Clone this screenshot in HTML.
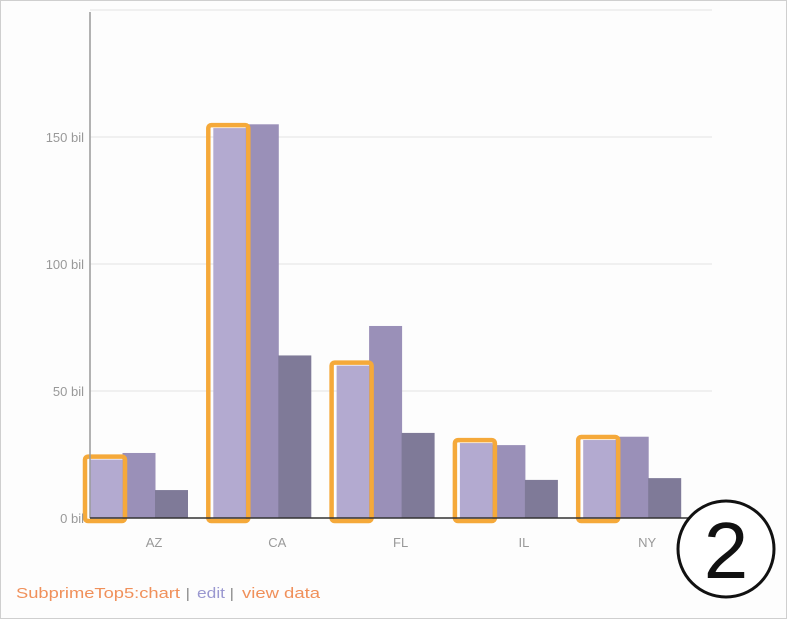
<!DOCTYPE html>
<html><head><meta charset="utf-8"><style>
body{margin:0;background:#fff;}
svg{display:block;font-family:"Liberation Sans",sans-serif;}
</style></head><body>
<svg width="788" height="620" viewBox="0 0 788 620">
<rect x="0.5" y="0.5" width="786" height="618" fill="#fdfdfd" stroke="#cfcfcf"/>
<g id="grid"></g>
<g id="bars"></g>
<g id="labels"></g>
<line x1="90" y1="12" x2="90" y2="518" stroke="#9a9a9a" stroke-width="1.5"/>
<line x1="90" y1="518" x2="690" y2="518" stroke="#333" stroke-width="1.5"/>
<text x="16" y="598" font-size="15" fill="#f0905a" textLength="164" lengthAdjust="spacingAndGlyphs">SubprimeTop5:chart</text>
<text x="186" y="598" font-size="14" fill="#777">|</text>
<text x="197" y="598" font-size="15" fill="#9a98d0" textLength="28" lengthAdjust="spacingAndGlyphs">edit</text>
<text x="230" y="598" font-size="14" fill="#777">|</text>
<text x="242" y="598" font-size="15" fill="#f0905a" textLength="78" lengthAdjust="spacingAndGlyphs">view data</text>
<circle cx="726" cy="549" r="48" fill="#fff" stroke="#111" stroke-width="3"/>
<text x="726" y="578" font-size="80" text-anchor="middle" fill="#111">2</text>
</svg>
<script>
const categories=["AZ","CA","FL","IL","NY"];
const series1=[23,153.5,60,29.5,30.7];
const series2=[25.6,155,75.6,28.7,32];
const series3=[11,64,33.5,15,15.7];
const yTicks=[0,50,100,150,200];
const yTickLabels=["0 bil","50 bil","100 bil","150 bil",""];
const NS="http://www.w3.org/2000/svg";
const y=v=>518-v*2.54;
const gx=i=>154+123.3*i;
function mk(tag,attrs,parent){const e=document.createElementNS(NS,tag);for(const k in attrs)e.setAttribute(k,attrs[k]);parent.appendChild(e);return e;}
const grid=document.getElementById('grid'),bars=document.getElementById('bars'),labels=document.getElementById('labels');
yTicks.forEach((t,i)=>{
 if(t>0){const l=mk('line',{x1:90,x2:712,y1:y(t),y2:y(t),stroke:'#e4e4e4'},grid);
 
 }
 const tx=mk('text',{x:84,y:y(t)+5,'font-size':13,fill:'#999','text-anchor':'end'},labels);
 tx.textContent=yTickLabels[i];
 
 
});
const cols=['#b3aad0','#9a90b8','#7f7a98'];
const all=[series1,series2,series3];
categories.forEach((c,i)=>{
 all.forEach((s,j)=>{
  const x=gx(i)-64+j*32.5;
  const r=mk('rect',{x:x,y:y(s[i]),width:33,height:518-y(s[i]),fill:cols[j]},bars);
  
  
 });
 const x=gx(i)-64;
 const h=mk('rect',{x:x-5,y:y(series1[i])-3,width:40,height:518-y(series1[i])+6,rx:3,fill:'none',stroke:'#f5a93a','stroke-width':4.5},bars);
 
 
 const t=mk('text',{x:gx(i),y:547,'font-size':13,fill:'#999','text-anchor':'middle'},labels);
 t.textContent=c;
 
 
});
</script>
</body></html>
